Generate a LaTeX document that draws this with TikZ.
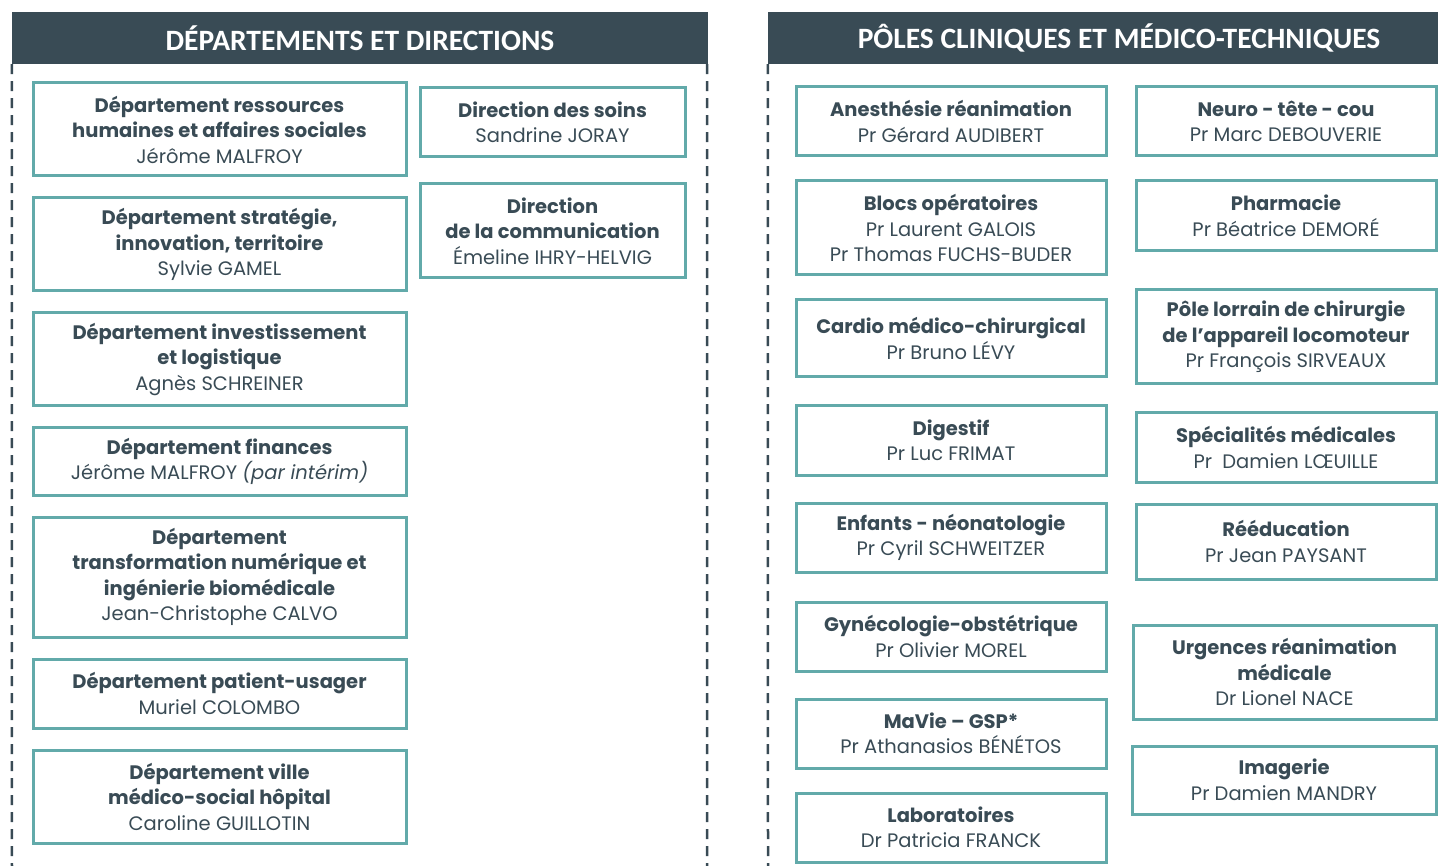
\documentclass[tikz,border=0pt]{standalone}
\usepackage{fontspec}
\setmainfont{Poppins}
\newfontfamily\headfont{Carlito}
\definecolor{slate}{HTML}{394B55}
\definecolor{boxteal}{HTML}{62AAAA}

\begin{document}
\begin{tikzpicture}[
x=1pt, y=-1pt,
header/.style={rectangle, fill=slate, text=white, inner sep=0pt, font=\headfont\bfseries\fontsize{29.5}{32}\selectfont},
unit/.style={rectangle, draw=boxteal, line width=3pt, fill=white, text=slate, align=center, inner sep=0pt, font=\fontsize{19.5}{25.5}\selectfont},
dept/.style={unit, minimum width=373pt},
dir/.style={unit, minimum width=265pt},
pole/.style={unit, minimum width=310pt},
pole2/.style={unit, minimum width=300pt},
sep/.style={slate, line width=2.5pt, dash pattern=on 10pt off 7pt},
]
\useasboundingbox (0,0) rectangle (1438,866);

% headers
\node[header, minimum width=696pt, minimum height=52pt] (lhead) at (360,38) {DÉPARTEMENTS ET DIRECTIONS};
\node[header, minimum width=702pt, minimum height=52pt] (rhead) at (1119,38) {PÔLES CLINIQUES ET MÉDICO-TECHNIQUES};

% dashed frames
\coordinate (lbot) at (12,866);
\coordinate (mbot) at (707,866);
\coordinate (rbot) at (768,866);
\draw[sep] (lhead.south west) -- (lbot);
\draw[sep] (lhead.south east) ++(-1,0) -- (mbot);
\draw[sep] (rhead.south west) -- (rbot);

% departements
\node[dept, minimum height=93pt] (rh) at (219.5,129.5) {\textbf{Département ressources}\\\textbf{humaines et affaires sociales}\\Jérôme MALFROY};
\node[dept, minimum height=93pt] (strat) at (219.5,244.5) {\textbf{Département stratégie,}\\\textbf{innovation, territoire}\\Sylvie GAMEL};
\node[dept, minimum height=93pt] (invest) at (219.5,359.5) {\textbf{Département investissement}\\\textbf{et logistique}\\Agnès SCHREINER};
\node[dept, minimum height=67pt] (fin) at (219.5,461.5) {\textbf{Département finances}\\Jérôme MALFROY \textit{(par intérim)}};
\node[dept, minimum height=120pt] (num) at (219.5,577) {\textbf{Département}\\\textbf{transformation numérique et}\\\textbf{ingénierie biomédicale}\\Jean-Christophe CALVO};
\node[dept, minimum height=69pt] (pat) at (219.5,693.5) {\textbf{Département patient-usager}\\Muriel COLOMBO};
\node[dept, minimum height=93pt] (ville) at (219.5,796.5) {\textbf{Département ville}\\\textbf{médico-social hôpital}\\Caroline GUILLOTIN};

% directions
\node[dir, minimum height=69pt] (soins) at (552.5,122.5) {\textbf{Direction des soins}\\Sandrine JORAY};
\node[dir, minimum height=94pt] (comm) at (552.5,231) {\textbf{Direction}\\\textbf{de la communication}\\Émeline IHRY-HELVIG};

% poles, first column
\node[pole, minimum height=69pt] (anest) at (951,121.5) {\textbf{Anesthésie réanimation}\\Pr Gérard AUDIBERT};
\node[pole, minimum height=94pt] (blocs) at (951,228) {\textbf{Blocs opératoires}\\Pr Laurent GALOIS\\Pr Thomas FUCHS-BUDER};
\node[pole, minimum height=77pt] (cardio) at (951,338.5) {\textbf{Cardio médico-chirurgical}\\Pr Bruno LÉVY};
\node[pole, minimum height=69pt] (dig) at (951,440.5) {\textbf{Digestif}\\Pr Luc FRIMAT};
\node[pole, minimum height=69pt] (enf) at (951,537.5) {\textbf{Enfants - néonatologie}\\Pr Cyril SCHWEITZER};
\node[pole, minimum height=69pt] (gyn) at (951,636.5) {\textbf{Gynécologie-obstétrique}\\Pr Olivier MOREL};
\node[pole, minimum height=69pt] (mavie) at (951,733.5) {\textbf{MaVie – GSP*}\\Pr Athanasios BÉNÉTOS};
\node[pole, minimum height=69pt] (labo) at (951,827.5) {\textbf{Laboratoires}\\Dr Patricia FRANCK};

% poles, second column
\node[pole2, minimum height=69pt] (neuro) at (1286,121.5) {\textbf{Neuro - tête - cou}\\Pr Marc DEBOUVERIE};
\node[pole2, minimum height=70pt] (pharma) at (1286,216) {\textbf{Pharmacie}\\Pr Béatrice DEMORÉ};
\node[pole2, minimum height=94pt] (loco) at (1286,337) {\textbf{Pôle lorrain de chirurgie}\\\textbf{de l’appareil locomoteur}\\Pr François SIRVEAUX};
\node[pole2, minimum height=69pt] (spec) at (1286,447.5) {\textbf{Spécialités médicales}\\Pr~~Damien LŒUILLE};
\node[pole2, minimum height=75pt] (reed) at (1286,541.5) {\textbf{Rééducation}\\Pr Jean PAYSANT};
\node[pole2, minimum width=303pt, minimum height=94pt] (urg) at (1284.5,672) {\textbf{Urgences réanimation}\\\textbf{médicale}\\Dr Lionel NACE};
\node[pole2, minimum width=304pt, minimum height=68pt] (imag) at (1284,780) {\textbf{Imagerie}\\Pr Damien MANDRY};
\end{tikzpicture}
\end{document}
